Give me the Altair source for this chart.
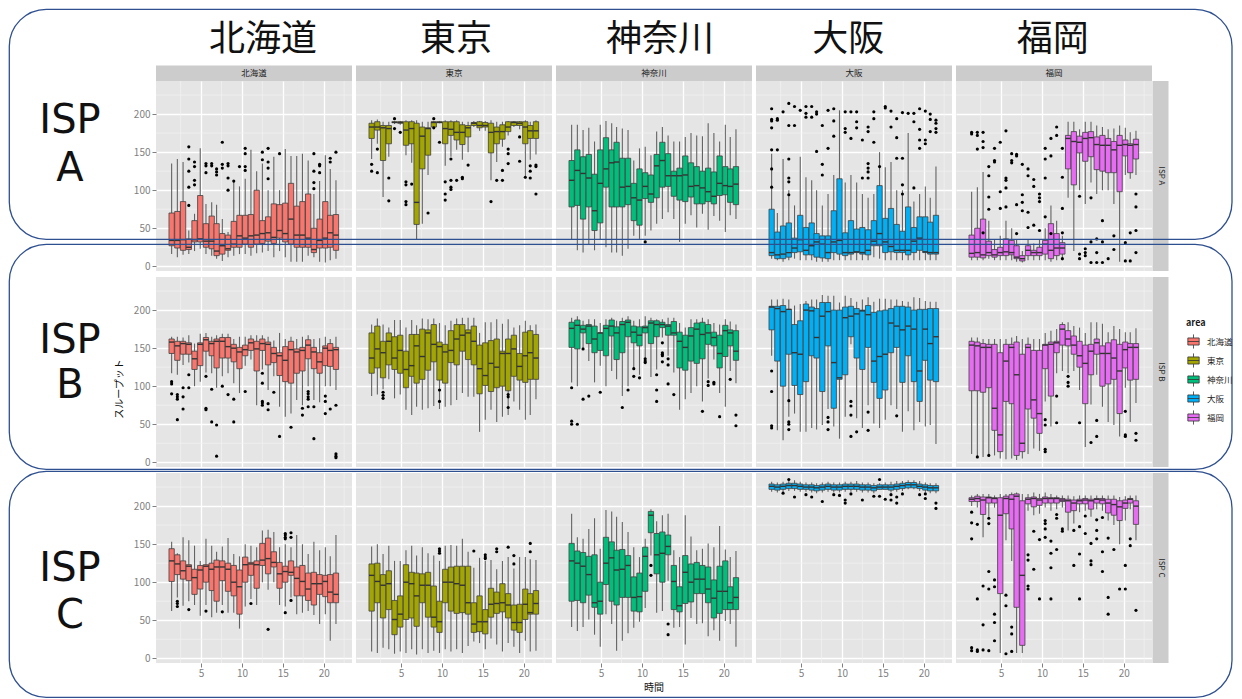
import altair as alt
import pandas as pd

AREAS = ["北海道", "東京", "神奈川", "大阪", "福岡"]
ISPS = ["ISP A", "ISP B", "ISP C"]
COLORS = ["#F8766D", "#A3A500", "#00BF7D", "#00B0F6", "#E76BF3"]
HOURS = [1.4, 2.1, 2.8, 3.5, 4.2, 4.9, 5.6, 6.3, 6.9, 7.6, 8.3, 9.0, 9.7, 10.4, 11.1,
         11.8, 12.5, 13.2, 13.9, 14.6, 15.3, 16.0, 16.7, 17.4, 18.1, 18.8, 19.5, 20.2, 20.8, 21.5]
X_TICKS = [5, 10, 15, 20]
Y_TICKS = [0, 50, 100, 150, 200]
X_MINOR = [2.5, 7.5, 12.5, 17.5, 22.5]
Y_MINOR = [25, 75, 125, 175, 225]
ISP_LETTERS = ["A", "B", "C"]

# each box: (lower whisker, q1, median, q3, upper whisker)
HKD_A = [(16,27,34,70,135),(12,24,34,72,141),(15,21,35,85,137),(16,22,25,36,47),(20,32,35,60,69),
         (23,32,36,93,155),(16,25,33,56,82),(14,23,33,66,84),(10,14,20,56,81),(7,16,27,43,62),
         (12,21,23,41,45),(14,25,29,59,113),(16,25,40,67,105),(16,29,37,67,115),(14,25,40,68,153),
         (17,29,41,100,125),(18,30,43,60,135),(20,33,44,65,100),(12,30,38,82,144),(20,37,47,81,100),
         (12,32,43,83,154),(6,29,62,109,145),(6,25,41,79,145),(6,25,41,85,148),(14,25,37,95,139),
         (12,18,22,50,95),(6,24,34,62,112),(5,24,37,85,146),(8,25,44,67,128),(10,21,41,68,113)]
HKD_A_OUT = [(3,157),(3,141),(3,125),(3,104),(3,80),(4,137),(4,131),(4,113),(4,107),(6,135),(6,132),
             (6,123),(7,135),(7,132),(8,128),(8,124),(8,120),(9,163),(9,134),(9,129),(10,135),(10,132),
             (10,116),(10,100),(11,112),(12,131),(13,155),(13,148),(13,131),(13,126),(16,150),(16,140),
             (17,155),(17,137),(17,129),(17,115),(19,148),(25,148),(25,125),(25,110),(25,102),(26,134),
             (26,132),(26,123),(28,142),(28,137),(29,150)]

TKY_A = [(141,168,183,188,192),(161,179,183,190,193),(91,139,182,185,190),(144,161,181,185,190),
         (187,189,189,190,191),(186,188,189,190,191),(146,159,179,190,192),(136,161,181,190,192),
         (36,55,84,188,192),(56,128,171,183,190),(120,146,181,182,190),(182,183,189,190,191),
         (188,189,189,190,191),(132,161,181,190,192),(144,172,180,190,192),(153,166,176,190,192),
         (140,160,176,186,190),(150,170,182,185,190),(183,185,188,189,191),(178,182,185,190,191),
         (178,183,185,189,191),(113,149,176,188,192),(137,161,177,183,190),(157,167,177,186,190),
         (172,177,183,190,191),(183,185,189,190,191),(180,185,188,190,191),(115,161,183,190,192),
         (140,168,178,185,190),(147,168,178,190,192)]
TKY_A_OUT = [(0,134),(0,125),(1,154),(1,123),(3,116),(3,86),(4,194),(4,181),(5,176),(6,111),(6,107),
             (6,85),(6,81),(7,108),(10,70),(11,194),(11,182),(12,163),(13,111),(13,95),(13,87),(14,141),
             (14,113),(14,104),(14,101),(15,113),(16,117),(16,115),(17,133),(21,85),(22,113),(23,126),
             (23,113),(24,154),(24,148),(24,135),(26,170),(26,138),(27,117),(28,132),(28,125),(28,116),
             (29,133),(29,131),(29,95)]

KNG_A = [(35,78,113,139,186),(21,80,126,153,186),(18,62,122,144,179),(29,78,116,147,182),
         (21,47,73,121,164),(36,57,109,153,186),(25,104,128,169,191),(18,78,136,153,188),
         (18,78,137,163,183),(14,78,104,142,181),(23,81,105,142,179),(40,60,90,109,139),
         (36,54,87,128,155),(40,89,105,123,157),(47,84,95,120,146),(56,90,132,147,177),
         (62,104,139,163,183),(71,105,119,148,172),(62,92,119,125,164),(32,87,119,129,164),
         (56,85,120,145,170),(67,91,105,136,175),(51,82,106,131,172),(69,82,103,125,171),
         (48,85,98,129,188),(66,82,92,124,175),(60,93,109,145,164),(45,94,106,131,186),
         (67,84,105,128,170),(62,81,108,131,180)]
KNG_A_OUT = [(13,32)]

OSK_A = [(10,14,18,75,148),(8,10,15,45,70),(6,10,16,53,141),(8,12,18,57,100),(10,18,24,37,80),
         (8,19,35,67,144),(8,15,21,51,117),(8,15,27,57,113),(6,12,32,43,100),(6,11,29,40,80),
         (6,10,18,40,95),(8,18,32,73,120),(8,16,34,115,205),(8,14,18,44,110),(8,16,18,60,120),
         (8,18,19,49,110),(8,16,18,51,95),(8,15,21,48,90),(12,27,33,60,95),(10,27,43,106,150),
         (8,18,32,63,130),(8,19,26,76,137),(8,18,21,55,100),(8,18,21,46,100),(8,15,21,78,175),
         (8,18,33,51,85),(8,21,37,65,95),(8,18,19,65,105),(8,16,18,58,90),(8,16,18,67,131)]
OSK_A_OUT = [(0,207),(0,193),(0,191),(0,182),(0,153),(0,128),(0,104),(1,194),(1,192),(1,153),(2,203),
             (3,214),(3,185),(3,141),(3,116),(3,111),(3,94),(4,210),(4,185),(5,205),(6,210),(6,201),
             (6,196),(7,210),(7,196),(8,203),(8,200),(8,151),(9,185),(9,134),(9,120),(10,205),(10,155),
             (11,207),(11,191),(11,171),(13,203),(13,181),(13,176),(14,203),(14,168),(15,203),(15,190),
             (15,182),(16,166),(16,116),(17,183),(17,177),(17,135),(17,129),(17,124),(17,116),(18,203),
             (18,194),(18,163),(19,131),(20,210),(20,208),(21,204),(21,183),(22,194),(22,169),(22,142),
             (23,202),(23,142),(23,107),(23,95),(24,201),(25,201),(25,190),(25,103),(26,207),(26,180),
             (26,166),(26,155),(27,204),(27,166),(27,161),(28,200),(28,193),(28,177),(29,192),(29,188),
             (29,181),(29,176)]

FKO_A = [(8,12,17,41,98),(8,12,18,50,104),(8,11,15,62,124),(10,14,18,33,60),(8,12,15,22,35),
         (8,14,18,25,40),(8,14,19,36,60),(8,15,18,34,50),(6,10,12,27,35),(5,7,10,14,20),
         (8,14,21,27,35),(8,14,18,21,30),(8,14,18,25,35),(8,16,29,34,50),(6,10,21,56,80),
         (8,14,24,43,60),(8,16,24,31,40),(90,128,168,172,190),(20,107,164,177,190),(100,149,163,171,180),
         (82,138,168,176,190),(110,144,169,177,190),(95,127,160,170,185),(100,125,159,172,183),
         (100,123,159,168,180),(82,123,153,164,181),(6,98,159,172,185),(120,145,160,166,182),
         (115,123,159,161,176),(120,141,160,167,178)]
FKO_A_OUT = [(0,176),(0,174),(1,176),(1,172),(1,154),(2,176),(2,164),(2,156),(2,44),(3,131),(3,119),
             (3,91),(3,75),(4,155),(4,139),(4,137),(5,163),(5,98),(5,76),(6,178),(6,116),(6,113),(6,103),
             (6,78),(7,148),(7,139),(7,136),(8,147),(8,145),(8,81),(8,43),(9,134),(9,94),(9,84),(9,73),
             (10,128),(10,119),(10,71),(10,51),(11,114),(11,105),(11,54),(12,95),(12,90),(12,85),(12,47),
             (13,155),(13,141),(13,116),(13,65),(14,168),(14,145),(14,43),(15,183),(15,172),(16,155),
             (16,117),(16,76),(16,44),(16,10),(19,92),(19,16),(19,10),(20,23),(20,18),(20,14),(21,90),
             (21,32),(21,5),(22,36),(22,18),(22,5),(23,60),(23,32),(23,5),(24,10),(25,40),(25,22),
             (27,31),(27,7),(28,44),(28,7),(29,95),(29,78),(29,47),(29,18)]

HKD_B = [(117,143,158,162,165),(115,134,153,159,165),(128,142,156,159,164),(131,142,155,157,167),
         (100,122,136,146,156),(106,127,155,157,169),(118,146,161,164,170),(117,140,156,159,165),
         (98,124,159,162,167),(113,137,159,164,169),(117,137,152,164,169),(104,132,150,155,162),
         (91,123,145,151,165),(127,140,148,154,165),(135,147,157,162,167),(75,120,149,159,167),
         (122,147,156,162,167),(95,128,155,158,165),(113,131,143,151,160),(73,114,140,144,170),
         (60,106,134,152,162),(64,104,148,159,165),(82,117,145,149,162),(75,120,147,151,165),
         (100,136,154,161,167),(82,123,145,151,162),(79,117,132,144,163),(100,127,150,153,165),
         (100,126,147,156,162),(95,122,148,151,165)]
HKD_B_OUT = [(0,106),(0,103),(0,90),(1,89),(1,86),(1,83),(1,56),(2,98),(2,86),(2,70),(3,115),(3,98),
             (6,113),(6,71),(6,69),(7,96),(7,53),(8,49),(8,8),(9,100),(10,89),(11,83),(11,53),(13,93),
             (16,117),(16,104),(16,80),(16,78),(16,75),(17,77),(17,69),(18,92),(19,34),(21,46),(23,71),
             (23,62),(24,93),(24,90),(24,86),(24,83),(24,73),(25,73),(25,31),(27,87),(27,80),(27,64),
             (28,70),(29,75),(29,11),(29,8),(29,6)]

TKY_B = [(87,117,137,170,181),(89,124,149,179,189),(96,111,144,159,181),(109,128,159,170,177),
         (84,122,137,165,187),(89,117,147,167,187),(69,98,122,146,177),(62,113,127,168,187),
         (73,104,153,168,180),(69,109,139,175,189),(71,121,170,174,188),(74,132,155,181,189),
         (70,108,152,158,183),(73,104,145,155,180),(75,131,147,173,186),(82,128,162,181,189),
         (91,146,167,181,190),(86,135,170,174,190),(86,128,159,179,190),(40,90,123,154,170),
         (56,101,114,157,184),(69,93,130,160,184),(53,98,125,162,188),(60,100,143,146,182),
         (62,94,143,162,188),(80,113,149,167,177),(69,108,126,143,180),(56,105,140,171,186),
         (62,109,144,173,180),(83,109,137,168,181)]
TKY_B_OUT = [(2,92),(2,88),(2,84),(12,95),(12,80),(24,89),(24,86),(24,72)]

KNG_B = [(105,151,176,184,190),(100,149,180,187,192),(151,170,175,180,186),(133,156,179,181,188),
         (105,144,162,179,188),(127,147,170,170,183),(100,140,176,180,188),(120,166,179,187,190),
         (109,135,170,178,186),(87,144,181,185,190),(100,165,184,187,192),(124,157,171,179,186),
         (115,153,167,178,188),(137,170,177,179,192),(112,156,183,186,190),(122,165,181,186,188),
         (164,177,181,184,188),(140,167,179,181,190),(118,167,170,185,190),(69,124,159,171,183),
         (83,121,151,167,177),(91,133,166,177,188),(100,130,175,183,188),(80,136,168,184,190),
         (110,155,170,181,188),(135,153,164,171,183),(91,124,143,167,181),(73,139,173,180,188),
         (120,153,170,174,185),(104,134,146,173,181)]
KNG_B_OUT = [(0,98),(0,54),(0,50),(1,50),(2,149),(2,83),(3,87),(5,92),(9,72),(10,95),(11,123),(11,113),
             (12,111),(13,136),(13,133),(13,131),(15,115),(15,95),(15,80),(16,157),(16,144),(16,142),
             (16,140),(16,132),(17,136),(17,128),(17,103),(18,89),(23,67),(24,106),(24,101),(25,105),
             (25,103),(26,60),(28,109),(29,62),(29,48)]

OSK_B = [(140,174,204,205,214),(42,133,202,205,214),(29,100,198,206,215),(60,142,201,201,214),
         (64,101,144,181,206),(40,89,142,186,208),(40,106,200,208,212),(45,140,199,204,214),
         (43,137,164,202,214),(49,93,192,210,220),(70,153,198,210,219),(47,71,131,200,219),
         (31,109,111,200,210),(60,115,190,204,219),(155,165,192,205,216),(58,137,195,202,211),
         (45,122,199,200,214),(75,151,194,206,217),(51,105,133,197,211),(45,84,139,199,215),
         (56,95,142,200,215),(75,144,183,202,214),(70,151,179,205,214),(40,105,174,205,212),
         (67,140,179,204,211),(42,106,175,200,217),(53,80,120,201,216),(47,134,175,201,212),
         (49,108,156,202,211),(24,106,165,202,211)]
OSK_B_OUT = [(0,120),(0,93),(0,48),(0,45),(3,81),(3,53),(3,50),(3,43),(10,59),(10,53),(10,43),(14,80),
             (14,74),(14,62),(14,34),(15,40),(17,66),(17,42),(22,61)]

FKO_B = [(11,94,154,159,164),(8,94,153,158,164),(7,92,151,156,162),(9,98,151,155,162),(9,42,71,155,162),
         (5,14,36,144,162),(4,80,133,155,162),(5,77,151,155,164),(3,9,115,158,166),(5,14,25,142,162),
         (11,70,151,155,164),(18,58,82,147,162),(15,38,64,147,162),(80,123,154,155,170),(47,87,155,158,173),
         (117,144,157,159,175),(120,154,175,181,184),(117,153,162,173,184),(120,142,154,166,179),
         (95,125,140,159,177),(20,77,130,154,170),(76,115,146,155,184),(115,142,157,162,184),
         (73,100,143,153,182),(53,103,143,157,171),(49,109,137,161,179),(34,64,120,155,175),
         (98,124,148,158,171),(53,108,151,156,171),(78,109,151,156,176)]
FKO_B_OUT = [(1,7),(3,9),(13,56),(13,49),(13,17),(13,14),(15,87),(15,52),(17,113),(17,105),(17,100),
             (19,52),(21,26),(22,55),(22,34),(27,67),(27,36),(27,34),(29,38),(29,29)]

HKD_C = [(62,101,128,144,153),(80,110,124,136,138),(69,104,115,128,159),(75,102,121,123,155),
         (70,84,106,117,148),(56,91,116,122,128),(70,100,121,123,157),(54,89,117,125,148),
         (60,75,120,129,140),(70,102,120,128,147),(60,88,117,125,158),(60,82,100,122,137),
         (39,58,94,116,134),(68,100,123,133,150),(78,109,124,126,148),(70,92,123,128,146),
         (100,122,129,151,168),(90,111,131,158,169),(100,120,126,140,166),(70,92,111,126,146),
         (68,100,114,121,150),(80,109,113,128,146),(58,82,105,120,162),(60,82,101,122,150),
         (62,76,91,112,137),(57,70,98,113,153),(45,84,98,110,142),(58,81,101,109,146),
         (23,73,87,110,134),(45,73,84,112,162)]
HKD_C_OUT = [(1,75),(1,72),(1,68),(3,64),(6,62),(9,61),(14,72),(17,38),(20,164),(20,162),(20,159),
             (20,157),(20,60),(21,165),(21,159),(21,76)]

TKY_C = [(9,62,109,124,147),(7,73,101,125,150),(14,53,96,110,137),(12,64,98,115,148),(6,31,51,76,128),
         (9,41,58,82,128),(7,51,100,123,142),(12,53,98,113,148),(5,42,82,112,135),(12,73,96,111,146),
         (7,54,96,113,138),(10,41,54,95,135),(7,34,48,75,128),(12,73,100,117,148),(9,62,100,120,149),
         (12,59,98,121,148),(7,60,96,121,157),(16,58,73,121,140),(22,34,45,73,119),(20,35,48,82,132),
         (12,32,48,64,128),(26,54,71,92,129),(18,59,72,87,117),(9,61,73,98,128),(20,53,70,85,133),
         (15,37,47,70,118),(7,34,47,71,133),(23,51,71,91,133),(9,58,60,85,130),(10,58,72,89,129)]
TKY_C_OUT = [(12,144),(12,141),(12,138),(18,141),(20,136),(20,133),(20,131),(22,144),(22,140),
             (24,146),(25,135),(25,124),(28,151),(28,140)]

KNG_C = [(41,75,128,151,190),(36,76,125,141,159),(41,73,121,139,157),(51,83,110,134,170),
         (31,67,73,136,184),(15,58,75,100,144),(58,97,125,159,195),(45,75,132,153,193),
         (10,70,116,142,186),(23,80,117,143,179),(33,80,122,135,166),(40,62,80,107,146),
         (48,61,81,112,133),(66,88,134,146,157),(135,165,188,193,196),(60,111,136,164,180),
         (62,100,138,166,188),(102,136,147,162,190),(40,64,101,122,142),(41,61,69,94,133),
         (18,72,113,135,188),(53,74,100,124,160),(45,85,104,126,142),(46,85,104,122,144),
         (29,73,91,120,151),(37,53,79,103,146),(23,59,88,121,174),(49,64,88,128,143),
         (45,64,73,94,133),(15,64,80,106,141)]
KNG_C_OUT = [(14,122),(14,109),(17,45),(17,31)]

OSK_C = [(219,222,226,229,232),(218,221,225,228,231),(219,222,226,229,232),(220,223,227,230,233),
         (220,223,227,230,234),(219,222,226,229,232),(219,222,225,228,231),(218,221,225,228,231),
         (217,220,224,227,230),(218,221,225,228,231),(219,222,226,229,232),(218,221,225,228,231),
         (218,221,225,228,231),(219,222,226,229,232),(219,222,226,229,232),(219,222,226,229,233),
         (218,221,225,228,231),(218,221,225,228,231),(217,220,224,227,230),(222,222,225,228,230),
         (222,222,225,228,231),(218,221,225,228,232),(219,222,226,229,233),(220,223,227,230,233),
         (222,224,228,231,234),(222,224,228,231,234),(220,223,226,229,233),(218,221,225,228,231),
         (217,220,224,227,230),(217,220,224,227,230)]
OSK_C_OUT = [(2,217),(3,235),(4,212),(6,215),(7,212),(9,206),(11,215),(12,214),(13,208),(13,204),
             (14,216),(16,208),(18,213),(19,235),(19,213),(20,209),(21,215),(21,208),(22,212),
             (22,204),(23,216),(26,215),(27,216),(27,210),(29,204),(29,197)]

FKO_C = [(200,206,209,211,214),(198,206,210,213,216),(159,189,208,212,216),(186,204,211,212,216),
         (198,204,210,211,214),(7,85,188,211,216),(155,190,210,213,216),(128,170,209,215,218),
         (7,67,213,216,218),(7,17,109,207,216),(194,203,209,211,216),(188,199,210,212,218),
         (190,201,208,210,216),(198,204,210,212,218),(194,204,210,211,216),(196,204,210,211,214),
         (198,206,208,210,214),(168,192,207,209,214),(177,194,204,208,213),(192,203,207,209,214),
         (194,203,208,210,214),(186,196,207,209,214),(196,204,209,210,214),(194,203,208,210,214),
         (181,191,204,209,214),(175,188,202,209,214),(150,181,199,207,212),(181,197,204,208,213),
         (196,204,209,210,214),(155,176,200,207,214)]
FKO_C_OUT = [(0,192),(0,178),(0,157),(0,14),(0,10),(1,176),(1,78),(1,11),(1,9),(2,95),(2,44),(2,11),
             (3,184),(3,177),(3,114),(3,91),(3,10),(4,103),(4,94),(4,58),(4,47),(4,23),(6,83),(6,69),
             (6,6),(7,41),(7,32),(7,9),(10,136),(10,129),(10,95),(10,91),(11,167),(11,117),(12,156),
             (12,78),(13,181),(13,177),(13,170),(13,159),(14,154),(14,138),(14,119),(14,78),(15,189),
             (15,184),(15,143),(16,170),(16,167),(18,168),(18,122),(19,173),(19,137),(19,78),(20,187),
             (20,164),(21,151),(21,128),(21,123),(22,182),(22,168),(22,157),(23,185),(23,140),(23,114),
             (24,158),(24,80),(24,58),(25,143),(26,91),(27,122),(27,91),(28,157),(28,148),(29,63)]

BOXES = {
    ("北海道", "ISP A"): (HKD_A, HKD_A_OUT), ("東京", "ISP A"): (TKY_A, TKY_A_OUT),
    ("神奈川", "ISP A"): (KNG_A, KNG_A_OUT), ("大阪", "ISP A"): (OSK_A, OSK_A_OUT),
    ("福岡", "ISP A"): (FKO_A, FKO_A_OUT),
    ("北海道", "ISP B"): (HKD_B, HKD_B_OUT), ("東京", "ISP B"): (TKY_B, TKY_B_OUT),
    ("神奈川", "ISP B"): (KNG_B, KNG_B_OUT), ("大阪", "ISP B"): (OSK_B, OSK_B_OUT),
    ("福岡", "ISP B"): (FKO_B, FKO_B_OUT),
    ("北海道", "ISP C"): (HKD_C, HKD_C_OUT), ("東京", "ISP C"): (TKY_C, TKY_C_OUT),
    ("神奈川", "ISP C"): (KNG_C, KNG_C_OUT), ("大阪", "ISP C"): (OSK_C, OSK_C_OUT),
    ("福岡", "ISP C"): (FKO_C, FKO_C_OUT),
}

FONT = "Noto Sans CJK JP"
W, H = 196, 190
COL_GAP, ROW_GAP = 4, 6
X_DOMAIN = [0.1, 22.85]
Y_DOMAIN = [-6.2, 243.5]
BLUE = "#2F5090"
TITLE_X = [107, 100, 104, 92.3, 96.7]
TITLE_Y = -41
ISP_Y = [(40, 88), (64, 109), (96, 143)]
RECT_X = (-946.7, 276)
RECT_Y = [(-71.7, 158.3), (-32.7, 192.3), (-1.7, 224.3)]
BOX_PATH = "M-0.8,-0.5H0.8V0.5H-0.8Z M-0.8,0H0.8 M0,-0.5V-1 M0,0.5V1"

LEGEND = alt.Legend(title="area", orient="none", legendX=1030, legendY=238,
                    symbolType=BOX_PATH, symbolSize=200, symbolStrokeColor="#333333",
                    symbolStrokeWidth=0.8, symbolOpacity=1, labelFont=FONT, labelFontSize=8.5,
                    labelColor="#1A1A1A", titleFont=FONT, titleFontSize=9, titleFontWeight="bold",
                    titleColor="#1A1A1A", rowPadding=0, titlePadding=6, labelOffset=6)


def one(text):
    return pd.DataFrame({"t": [text]})


def panel(r, c):
    area, isp = AREAS[c], ISPS[r]
    stats, outs = BOXES[(area, isp)]
    bdf = pd.DataFrame(stats, columns=["lo", "q1", "med", "q3", "hi"])
    bdf["hour"] = HOURS
    bdf["area"] = area
    odf = pd.DataFrame({"hour": [HOURS[i] for i, _ in outs], "v": [v for _, v in outs]})
    bottom, left = r == 2, c == 0
    xaxis = alt.Axis(values=X_TICKS, grid=True, gridColor="white", gridWidth=1.3, domain=False,
                     labels=bottom, ticks=bottom, tickColor="#7F7F7F", tickSize=4,
                     labelColor="#7F7F7F", labelFontSize=10, labelFont=FONT, labelPadding=1,
                     title=None)
    yaxis = alt.Axis(values=Y_TICKS, grid=True, gridColor="white", gridWidth=1.3, domain=False,
                     labels=left, ticks=left, tickColor="#7F7F7F", tickSize=4,
                     labelColor="#7F7F7F", labelFontSize=10, labelFont=FONT, labelPadding=2,
                     title=None)
    xs = alt.Scale(domain=X_DOMAIN, nice=False, zero=False)
    ys = alt.Scale(domain=Y_DOMAIN, nice=False, zero=False)

    def X():
        return alt.X("hour:Q", scale=xs, axis=xaxis)

    def Y(f):
        return alt.Y(f, scale=ys, axis=yaxis)

    base = alt.Chart(bdf)
    layers = [
        alt.Chart(pd.DataFrame({"hour": X_MINOR})).mark_rule(color="#F2F2F2", strokeWidth=0.7)
        .encode(x=X()),
        alt.Chart(pd.DataFrame({"v": Y_MINOR})).mark_rule(color="#F2F2F2", strokeWidth=0.7)
        .encode(y=Y("v:Q")),
        base.mark_rule(color="#636363", strokeWidth=1.1).encode(x=X(), y=Y("lo:Q"), y2="hi:Q"),
        base.mark_bar(size=5.3, stroke="#404040", strokeWidth=0.8, opacity=1).encode(
            x=X(), y=Y("q1:Q"), y2="q3:Q",
            color=alt.Color("area:N", scale=alt.Scale(domain=AREAS, range=COLORS), legend=LEGEND)),
        base.mark_tick(orient="horizontal", size=5.3, thickness=1.4, color="#333333", opacity=1)
        .encode(x=X(), y=Y("med:Q")),
        alt.Chart(odf).mark_circle(size=10, color="black", opacity=1).encode(x=X(), y=Y("v:Q")),
    ]
    if r == 0:
        layers += [
            alt.Chart(one(area)).mark_rect(color="#CCCCCC").encode(
                x=alt.value(0), x2=alt.value(W), y=alt.value(-15.6), y2=alt.value(0)),
            alt.Chart(one(area)).mark_text(font=FONT, fontSize=8.5, color="#1A1A1A",
                                           baseline="middle").encode(
                x=alt.value(W / 2), y=alt.value(-7.8), text="t:N"),
            alt.Chart(one(area)).mark_text(font=FONT, fontSize=36, color="#111111",
                                           baseline="middle").encode(
                x=alt.value(TITLE_X[c]), y=alt.value(TITLE_Y), text="t:N"),
        ]
    if c == 0:
        layers += [
            alt.Chart(one("ISP")).mark_text(font="DejaVu Sans", fontSize=40, color="#111111",
                                            baseline="middle").encode(
                x=alt.value(-86), y=alt.value(ISP_Y[r][0]), text="t:N"),
            alt.Chart(one(ISP_LETTERS[r])).mark_text(font="DejaVu Sans", fontSize=40,
                                                     color="#111111", baseline="middle").encode(
                x=alt.value(-86), y=alt.value(ISP_Y[r][1]), text="t:N"),
        ]
    if r == 1 and c == 0:
        layers.append(alt.Chart(one("スループット")).mark_text(
            font=FONT, fontSize=10, color="#111111", angle=270, baseline="middle").encode(
            x=alt.value(-36), y=alt.value(112), text="t:N"))
    if r == 2 and c == 2:
        layers.append(alt.Chart(one("時間")).mark_text(
            font=FONT, fontSize=10, color="#111111", baseline="middle").encode(
            x=alt.value(W / 2), y=alt.value(215), text="t:N"))
    if c == 4:
        layers += [
            alt.Chart(one(isp)).mark_rect(color="#CCCCCC").encode(
                x=alt.value(W + 0.5), x2=alt.value(W + 16.5), y=alt.value(0), y2=alt.value(H)),
            alt.Chart(one(isp)).mark_text(font=FONT, fontSize=8, color="#1A1A1A", angle=90,
                                          baseline="middle").encode(
                x=alt.value(W + 8.5), y=alt.value(H / 2), text="t:N"),
            alt.Chart(one(isp)).mark_rect(cornerRadius=37, fillOpacity=0, stroke=BLUE,
                                          strokeWidth=1.3, strokeJoin="round").encode(
                x=alt.value(RECT_X[0]), x2=alt.value(RECT_X[1]),
                y=alt.value(RECT_Y[r][0]), y2=alt.value(RECT_Y[r][1])),
        ]
    return alt.layer(*layers).properties(
        width=W, height=H, view=alt.ViewBackground(fill="#E5E5E5", stroke=None))


panels = [panel(r, c) for r in range(3) for c in range(5)]

chart = alt.concat(*panels, columns=5, spacing={"row": ROW_GAP, "column": COL_GAP},
                   bounds="flush").properties(
    padding={"left": 0, "top": 0, "right": 0, "bottom": 0}
).configure_view(fill="#E5E5E5", stroke=None).configure(font=FONT)

chart.save("out.html", embed_options={"renderer": "svg", "actions": False})
